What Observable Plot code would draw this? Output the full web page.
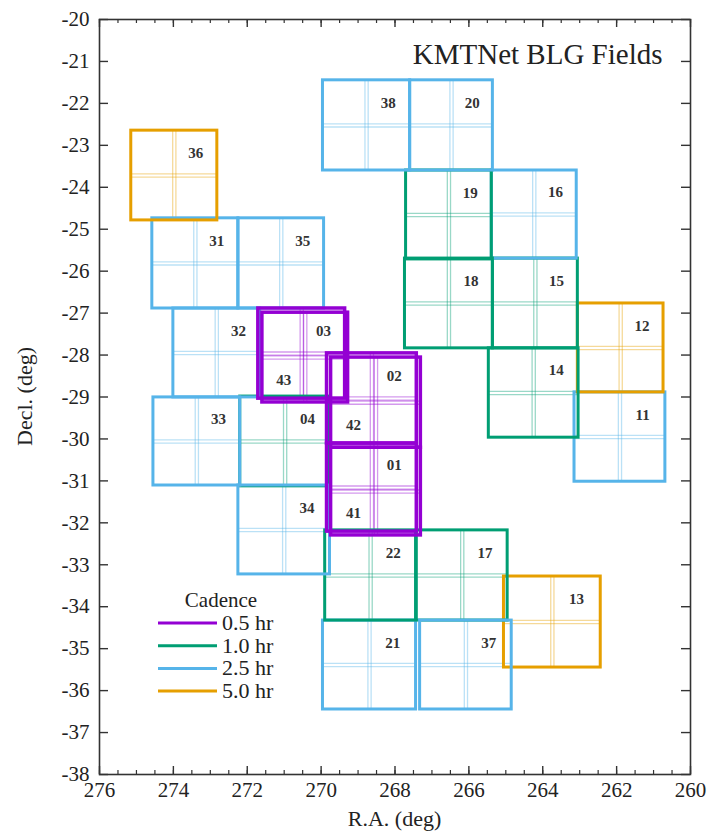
<!DOCTYPE html>
<html><head><meta charset="utf-8">
<script src="https://cdn.jsdelivr.net/npm/d3@7"></script>
<script src="https://cdn.jsdelivr.net/npm/@observablehq/plot@0.6"></script>
<style>body{margin:0;background:#fff} svg{display:block}</style>
</head><body><div id="chart"></div>
<script>
// ---- data ----
const fieldIds = ["01","02","03","04","11","12","13","14","15","16","17","18","19","20","21","22","31","32","33","34","35","36","37","38","41","42","43"];
const raEast   = [269.84,269.84,271.70,272.19,263.14,263.05,265.05,265.46,265.35,265.38,267.41,267.73,267.70,267.59,269.95,269.89,274.57,274.00,274.54,272.24,272.24,275.14,267.32,269.95,269.73,269.73,271.59];
const raWest   = [267.41,267.41,269.35,269.76,260.68,260.73,262.43,263.03,263.05,263.08,264.95,265.35,265.38,265.35,267.43,267.43,272.24,271.65,272.19,269.76,269.92,272.81,264.84,267.59,267.30,267.30,269.27];
const decNorth = [-30.11,-27.96,-26.89,-28.99,-28.89,-26.77,-33.28,-27.84,-25.70,-23.60,-32.18,-25.70,-23.60,-21.45,-34.33,-32.18,-24.74,-26.89,-29.01,-31.11,-24.74,-22.65,-34.33,-21.45,-30.21,-28.06,-26.99];
const decSouth = [-32.21,-30.11,-29.04,-31.13,-31.02,-28.89,-35.45,-29.97,-27.84,-25.70,-34.33,-27.84,-25.72,-23.60,-36.45,-34.33,-26.89,-29.01,-31.11,-33.23,-26.89,-24.79,-36.45,-23.60,-32.30,-30.21,-29.13];
const cadence  = [0.5,0.5,0.5,1.0,2.5,5.0,5.0,1.0,1.0,2.5,1.0,1.0,1.0,2.5,2.5,1.0,2.5,2.5,2.5,2.5,2.5,5.0,2.5,2.5,0.5,0.5,0.5];
const cadenceLevels = [0.5, 1.0, 2.5, 5.0];
const cadenceLabels = ["0.5 hr", "1.0 hr", "2.5 hr", "5.0 hr"];
const cadenceColors = ["#9400D3", "#009E73", "#56B4E9", "#E69F00"];
const xTickLabels = [276, 274, 272, 270, 268, 266, 264, 262, 260];
const xMinorTicks = d3.range(260, 276.01, 0.5);
const yTickLabels = d3.range(-38, -19.99, 1);
const titleText = "KMTNet BLG Fields";
const xLabel = "R.A. (deg)";
const yLabel = "Decl. (deg)";
const legendTitle = "Cadence";

// ---- derived table ----
const fields = fieldIds.map((id, i) => {
  const e = raEast[i], w = raWest[i], n = decNorth[i], s = decSouth[i];
  const alt = id[0] === "4";
  return {
    id, e, w, n, s, cad: cadence[i],
    cx: (e + w) / 2, cy: (n + s) / 2,
    lx: alt ? (3 * e + w) / 4 : (e + 3 * w) / 4,
    ly: alt ? (n + 3 * s) / 4 : (3 * n + s) / 4
  };
});
const normal = fields.filter(f => f.cad !== 0.5);
const fast = fields.filter(f => f.cad === 0.5);

const W = 712, H = 834, mL = 99, mR = 22, mT = 19, mB = 60;
const iw = W - mL - mR, ih = H - mT - mB;
const font = "Liberation Serif";
const axisColor = "#333";

const inner = (data, d) => [
  Plot.link(data, {x1: "cx", x2: "cx", y1: "n", y2: "s", stroke: "cad", strokeOpacity: 0.4, strokeWidth: 1.3, dx: -d}),
  Plot.link(data, {x1: "cx", x2: "cx", y1: "n", y2: "s", stroke: "cad", strokeOpacity: 0.4, strokeWidth: 1.3, dx: d}),
  Plot.link(data, {x1: "e", x2: "w", y1: "cy", y2: "cy", stroke: "cad", strokeOpacity: 0.4, strokeWidth: 1.3, dy: -d}),
  Plot.link(data, {x1: "e", x2: "w", y1: "cy", y2: "cy", stroke: "cad", strokeOpacity: 0.4, strokeWidth: 1.3, dy: d})
];

const chart = Plot.plot({
  width: W, height: H,
  marginLeft: mL, marginRight: mR, marginTop: mT, marginBottom: mB,
  style: {fontFamily: font, background: "#fff"},
  x: {domain: [276, 260]},
  y: {domain: [-38, -20]},
  color: {type: "ordinal", domain: cadenceLevels, range: cadenceColors},
  marks: [
    ...inner(fields, 1.6),
    Plot.rect(normal, {x1: "e", x2: "w", y1: "n", y2: "s", fill: "none", stroke: "cad", strokeWidth: 3}),
    Plot.rect(fast, {x1: "e", x2: "w", y1: "n", y2: "s", fill: "none", stroke: "cad", strokeWidth: 3.5}),
    Plot.text(fields, {x: "lx", y: "ly", text: "id", fontSize: 15, fontWeight: 600, fill: "#333"}),
    // inward ticks
    Plot.tickX(xMinorTicks, {x: d => d, insetTop: ih - 4, stroke: axisColor, strokeWidth: 1.2}),
    Plot.tickX(xMinorTicks, {x: d => d, insetBottom: ih - 4, stroke: axisColor, strokeWidth: 1.2}),
    Plot.tickX(xTickLabels, {x: d => d, insetTop: ih - 8, stroke: axisColor, strokeWidth: 1.4}),
    Plot.tickX(xTickLabels, {x: d => d, insetBottom: ih - 8, stroke: axisColor, strokeWidth: 1.4}),
    Plot.tickY(yTickLabels, {y: d => d, insetRight: iw - 9, stroke: axisColor, strokeWidth: 1.4}),
    Plot.tickY(yTickLabels, {y: d => d, insetLeft: iw - 9, stroke: axisColor, strokeWidth: 1.4}),
    Plot.frame({stroke: axisColor, strokeWidth: 1.6}),
    Plot.axisX(xTickLabels, {anchor: "bottom", tickSize: 0, tickPadding: 8, fontSize: 21, fill: "#222", label: null, tickFormat: d => `${d}`}),
    Plot.axisY(yTickLabels, {anchor: "left", tickSize: 0, tickPadding: 10, fontSize: 21, fill: "#222", label: null, tickFormat: d => `${d}`}),
    Plot.text([titleText], {frameAnchor: "top-right", text: d => d, dx: -28, dy: 24, fontSize: 29, fill: "#222"})
  ]
});

const svg = d3.select(chart);
// axis titles
svg.append("text").attr("x", mL + iw / 2).attr("y", 826).attr("text-anchor", "middle")
  .attr("font-family", font).attr("font-size", 22).attr("fill", "#222").text(xLabel);
svg.append("text").attr("transform", `translate(32,${mT + ih / 2}) rotate(-90)`).attr("text-anchor", "middle")
  .attr("font-family", font).attr("font-size", 22).attr("fill", "#222").text(yLabel);
// legend
const lg = svg.append("g").attr("font-family", font).attr("fill", "#222");
lg.append("text").attr("x", 221).attr("y", 607).attr("text-anchor", "middle").attr("font-size", 21).text(legendTitle);
cadenceLabels.forEach((lab, i) => {
  const y = 623 + i * 22.7;
  lg.append("line").attr("x1", 158).attr("x2", 217).attr("y1", y).attr("y2", y)
    .attr("stroke", cadenceColors[i]).attr("stroke-width", 3);
  lg.append("text").attr("x", 222).attr("y", y + 7).attr("text-anchor", "start").attr("font-size", 22).text(lab);
});

document.getElementById("chart").append(chart);
</script>
</body></html>
